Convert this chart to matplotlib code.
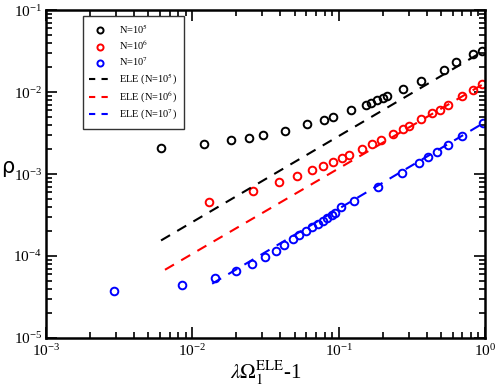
import matplotlib
matplotlib.use('Agg')
import matplotlib.pyplot as plt

# valores
x_n5 = [0.00611, 0.0120, 0.0184, 0.0244, 0.0304, 0.0431, 0.0608, 0.0794, 0.0917,
        0.1217, 0.154, 0.166, 0.183, 0.201, 0.214, 0.275, 0.366, 0.525, 0.634,
        0.830, 0.955]
y_n5 = [0.00207, 0.00232, 0.0026, 0.00275, 0.00299, 0.00334, 0.00407, 0.00456,
        0.00496, 0.00603, 0.00694, 0.00734, 0.00798, 0.00845, 0.00894, 0.0109,
        0.0136, 0.0185, 0.0232, 0.0291, 0.0316]

x_n6 = [0.0130, 0.0260, 0.0392, 0.0520, 0.0658, 0.0781, 0.0917, 0.1055, 0.118,
        0.1445, 0.169, 0.195, 0.236, 0.275, 0.303, 0.366, 0.434, 0.493, 0.560,
        0.697, 0.830, 0.955]
y_n6 = [0.000456, 0.000621, 0.000798, 0.000946, 0.00112, 0.00125, 0.00140,
        0.00157, 0.00171, 0.00202, 0.00232, 0.0026, 0.00308, 0.00354, 0.00385,
        0.00469, 0.00555, 0.00603, 0.00694, 0.00894, 0.0106, 0.0125]

x_n7 = [0.00292, 0.00851, 0.01429, 0.0199, 0.0256, 0.0314, 0.0373, 0.0424,
        0.0488, 0.0536, 0.0598, 0.0658, 0.0723, 0.0781, 0.0834, 0.0902, 0.0944,
        0.1038, 0.1274, 0.186, 0.271, 0.355, 0.408, 0.471, 0.560, 0.697, 0.970]
y_n7 = [3.74e-5, 4.43e-5, 5.40e-5, 6.56e-5, 7.98e-5, 9.72e-5, 1.15e-4, 1.36e-4,
        1.61e-4, 1.80e-4, 2.02e-4, 2.26e-4, 2.46e-4, 2.67e-4, 2.90e-4, 3.16e-4,
        3.34e-4, 3.96e-4, 4.69e-4, 6.94e-4, 1.03e-3, 1.36e-3, 1.61e-3, 1.85e-3,
        2.26e-3, 2.91e-3, 4.19e-3]

# rectas ELE (extremos)
ele_x_n5 = [0.00611, 1.0]
ele_y_n5 = [1.55e-4, 0.0325]
ele_x_n6 = [0.0065, 1.0]
ele_y_n6 = [6.8e-5, 0.0129]
ele_x_n7 = [0.01365, 1.0]
ele_y_n7 = [4.6e-5, 4.3e-3]

plt.rcParams['mathtext.fontset'] = 'stix'
plt.rcParams['axes.unicode_minus'] = False
plt.rcParams['font.family'] = ['Liberation Serif', 'DejaVu Serif']

fig = plt.figure(figsize=(4.98, 3.90), dpi=100)
ax = fig.add_axes([0.0924, 0.1333, 0.8816, 0.8407])

mk = dict(marker='o', ms=5.5, mfc='none', mew=1.4, ls='none')
ax.plot(x_n5, y_n5, mec='black', label=r'N=10$^5$', **mk)
ax.plot(x_n6, y_n6, mec='red', label=r'N=10$^6$', **mk)
ax.plot(x_n7, y_n7, mec='blue', label=r'N=10$^7$', **mk)
ax.plot(ele_x_n5, ele_y_n5, color='black', ls=(0, (5, 4)), lw=1.5, label=r'ELE (N=10$^5$)')
ax.plot(ele_x_n6, ele_y_n6, color='red', ls=(0, (5, 4)), lw=1.5, label=r'ELE (N=10$^6$)')
ax.plot(ele_x_n7, ele_y_n7, color='blue', ls=(0, (5, 4)), lw=1.5, label=r'ELE (N=10$^7$)')

ax.set_xscale('log')
ax.set_yscale('log')
ax.set_xlim(1e-3, 1)
ax.set_ylim(1e-5, 1e-1)

for s in ax.spines.values():
    s.set_linewidth(1.8)
ax.tick_params(which='both', direction='in', top=True, right=True, labelsize=11, width=1.2)
ax.tick_params(which='major', length=8, pad=3)
ax.tick_params(axis='x', which='major', pad=4)
ax.tick_params(which='minor', length=4)

ax.set_xlabel(r'$\lambda\Omega_1^{\mathrm{ELE}}$-1', fontsize=15, labelpad=0)
ax.set_ylabel('ρ', fontsize=15, family='DejaVu Sans', rotation=0)
ax.yaxis.set_label_coords(-0.088, 0.49)

leg = ax.legend(loc='upper left', bbox_to_anchor=(0.084, 0.983), fontsize=7.5,
                frameon=True, fancybox=False, edgecolor='black',
                handlelength=2.0, handletextpad=0.9, labelspacing=0.3,
                borderpad=0.6, borderaxespad=0, markerscale=0.8)
leg.get_frame().set_linewidth(1.0)
for h in leg.get_lines()[3:]:
    h.set_dashes((3, 3))

fig.savefig('out.png', dpi=100)
